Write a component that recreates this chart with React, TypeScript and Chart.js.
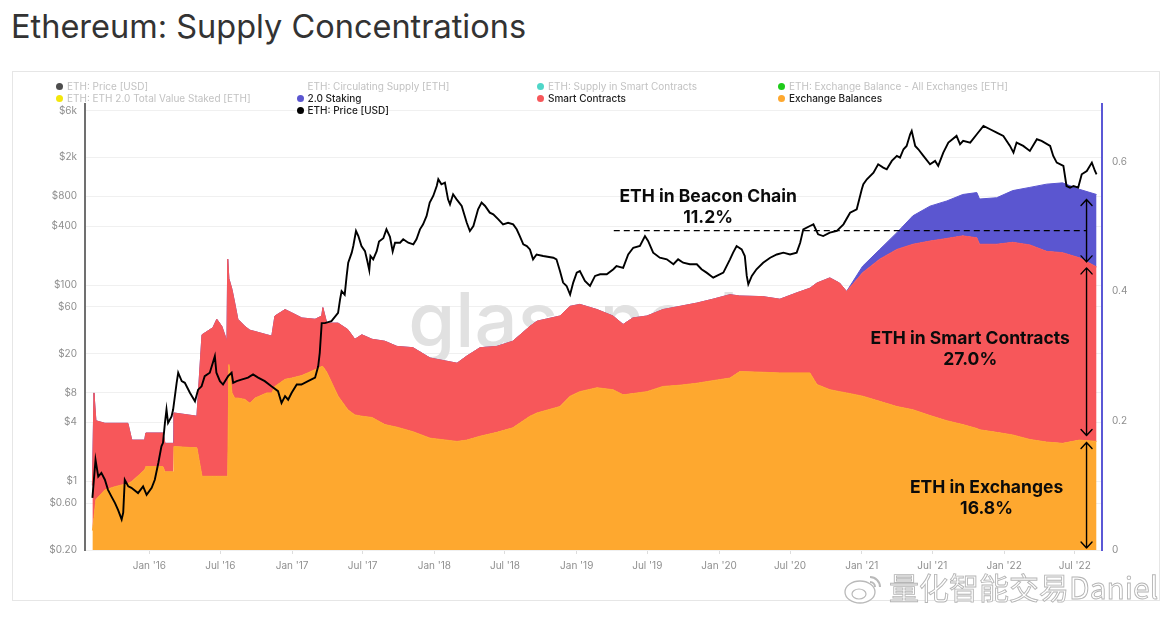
import React, { useEffect, useRef } from 'react';
import { Chart, registerables } from 'chart.js';

Chart.register(...registerables);

// ---------------- data ----------------
const supplyDates = [
  '2015-08-08', '2015-08-12', '2015-08-17', '2015-09-09', '2015-10-05', '2015-11-07', '2015-11-17', '2015-12-20',
  '2015-12-23', '2016-02-05', '2016-02-10', '2016-03-02', '2016-03-04', '2016-05-02', '2016-05-15', '2016-06-12',
  '2016-06-22', '2016-07-05', '2016-07-18', '2016-07-20', '2016-07-23', '2016-07-31', '2016-08-07', '2016-08-15',
  '2016-09-02', '2016-09-15', '2016-09-28', '2016-10-28', '2016-11-10', '2016-11-18', '2016-12-14', '2016-12-31',
  '2017-01-26', '2017-03-01', '2017-03-18', '2017-03-21', '2017-03-31', '2017-04-29', '2017-05-24', '2017-06-11',
  '2017-06-29', '2017-07-25', '2017-08-27', '2017-09-27', '2017-11-07', '2017-12-21', '2018-02-28', '2018-03-25',
  '2018-04-28', '2018-06-10', '2018-07-21', '2018-09-03', '2018-09-21', '2018-11-19', '2018-12-15', '2019-01-09',
  '2019-02-22', '2019-04-04', '2019-04-30', '2019-05-25', '2019-06-30', '2019-08-10', '2019-09-23', '2019-11-05',
  '2019-12-16', '2020-01-29', '2020-02-23', '2020-04-22', '2020-06-05', '2020-07-19', '2020-08-21', '2020-09-08',
  '2020-10-11', '2020-11-05', '2020-11-23', '2021-01-03', '2021-02-16', '2021-04-01', '2021-05-12', '2021-06-25',
  '2021-08-07', '2021-09-17', '2021-10-23', '2021-10-30', '2021-12-13', '2022-01-23', '2022-03-08', '2022-04-20',
  '2022-05-31', '2022-07-13', '2022-08-26',
];
const exchangeBalances = [
  0.03, 0.05, 0.078, 0.093, 0.098, 0.103, 0.106, 0.124,
  0.129, 0.129, 0.121, 0.121, 0.16, 0.158, 0.114, 0.114,
  0.114, 0.114, 0.114, 0.114, 0.287, 0.243, 0.235, 0.235,
  0.233, 0.227, 0.235, 0.243, 0.243, 0.253, 0.264, 0.266,
  0.27, 0.279, 0.284, 0.284, 0.275, 0.238, 0.217, 0.209,
  0.207, 0.205, 0.194, 0.19, 0.183, 0.173, 0.168, 0.17,
  0.176, 0.182, 0.189, 0.207, 0.212, 0.222, 0.238, 0.245,
  0.251, 0.248, 0.24, 0.242, 0.245, 0.253, 0.255, 0.258,
  0.262, 0.266, 0.276, 0.275, 0.274, 0.274, 0.274, 0.256,
  0.248, 0.245, 0.243, 0.238, 0.23, 0.222, 0.217, 0.208,
  0.2, 0.194, 0.188, 0.186, 0.182, 0.178, 0.171, 0.167,
  0.165, 0.17, 0.168,
];
const smartContracts = [
  0.07, 0.193, 0.122, 0.103, 0.098, 0.093, 0.064, 0.046,
  0.052, 0.052, 0.044, 0.044, 0.052, 0.049, 0.219, 0.23,
  0.243, 0.232, 0.209, 0.336, 0.133, 0.16, 0.147, 0.122,
  0.113, 0.113, 0.103, 0.09, 0.088, 0.109, 0.108, 0.101,
  0.089, 0.078, 0.078, 0.091, 0.076, 0.113, 0.124, 0.117,
  0.126, 0.121, 0.129, 0.125, 0.13, 0.124, 0.121, 0.13,
  0.137, 0.133, 0.134, 0.139, 0.142, 0.14, 0.139, 0.135,
  0.121, 0.114, 0.109, 0.117, 0.117, 0.119, 0.122, 0.124,
  0.126, 0.129, 0.117, 0.117, 0.114, 0.124, 0.131, 0.157,
  0.173, 0.168, 0.157, 0.191, 0.22, 0.243, 0.256, 0.27,
  0.282, 0.292, 0.295, 0.287, 0.291, 0.298, 0.301, 0.295,
  0.295, 0.282, 0.27,
];
const staking20 = [
  0, 0, 0, 0, 0, 0, 0, 0,
  0, 0, 0, 0, 0, 0, 0, 0,
  0, 0, 0, 0, 0, 0, 0, 0,
  0, 0, 0, 0, 0, 0, 0, 0,
  0, 0, 0, 0, 0, 0, 0, 0,
  0, 0, 0, 0, 0, 0, 0, 0,
  0, 0, 0, 0, 0, 0, 0, 0,
  0, 0, 0, 0, 0, 0, 0, 0,
  0, 0, 0, 0, 0, 0, 0, 0,
  0, 0, 0, 0.01, 0.015, 0.026, 0.044, 0.054,
  0.058, 0.064, 0.07, 0.07, 0.072, 0.08, 0.089, 0.104,
  0.108, 0.106, 0.112,
];

const priceDates = [
  '2015-08-08', '2015-08-16', '2015-08-23', '2015-08-31', '2015-09-09', '2015-09-17', '2015-09-26', '2015-10-05',
  '2015-10-13', '2015-10-22', '2015-10-26', '2015-10-30', '2015-11-08', '2015-11-16', '2015-12-03', '2015-12-16',
  '2015-12-25', '2016-01-07', '2016-01-15', '2016-01-24', '2016-02-01', '2016-02-05', '2016-02-10', '2016-02-14',
  '2016-02-18', '2016-02-27', '2016-03-02', '2016-03-11', '2016-03-15', '2016-03-24', '2016-04-01', '2016-04-14',
  '2016-04-27', '2016-05-05', '2016-05-14', '2016-05-22', '2016-06-04', '2016-06-17', '2016-06-21', '2016-06-30',
  '2016-07-08', '2016-07-21', '2016-07-30', '2016-08-03', '2016-08-12', '2016-08-24', '2016-09-10', '2016-09-23',
  '2016-10-06', '2016-10-23', '2016-11-09', '2016-11-26', '2016-12-05', '2016-12-14', '2016-12-22', '2016-12-31',
  '2017-01-13', '2017-01-25', '2017-02-11', '2017-03-01', '2017-03-09', '2017-03-13', '2017-03-18', '2017-03-26',
  '2017-04-12', '2017-04-29', '2017-05-04', '2017-05-08', '2017-05-16', '2017-05-21', '2017-05-25', '2017-06-03',
  '2017-06-07', '2017-06-14', '2017-06-20', '2017-06-28', '2017-07-07', '2017-07-13', '2017-07-18', '2017-07-21',
  '2017-07-28', '2017-08-06', '2017-08-12', '2017-08-23', '2017-08-31', '2017-09-09', '2017-09-16', '2017-09-22',
  '2017-10-05', '2017-10-13', '2017-10-26', '2017-11-08', '2017-11-16', '2017-11-25', '2017-12-03', '2017-12-12',
  '2017-12-20', '2017-12-29', '2018-01-07', '2018-01-11', '2018-01-19', '2018-01-28', '2018-02-05', '2018-02-10',
  '2018-02-18', '2018-02-27', '2018-03-12', '2018-03-25', '2018-04-02', '2018-04-11', '2018-04-23', '2018-05-02',
  '2018-05-11', '2018-05-23', '2018-06-01', '2018-06-14', '2018-06-26', '2018-07-09', '2018-07-22', '2018-07-31',
  '2018-08-08', '2018-08-17', '2018-08-26', '2018-09-03', '2018-09-11', '2018-09-20', '2018-10-07', '2018-11-02',
  '2018-11-10', '2018-11-19', '2018-11-27', '2018-12-06', '2018-12-15', '2018-12-23', '2019-01-01', '2019-01-09',
  '2019-01-22', '2019-02-04', '2019-02-17', '2019-03-02', '2019-03-19', '2019-04-05', '2019-04-13', '2019-04-30',
  '2019-05-13', '2019-05-26', '2019-06-12', '2019-06-25', '2019-07-03', '2019-07-16', '2019-08-02', '2019-08-20',
  '2019-09-06', '2019-09-18', '2019-10-01', '2019-10-18', '2019-11-05', '2019-11-17', '2019-11-30', '2019-12-17',
  '2019-12-26', '2020-01-12', '2020-01-29', '2020-02-06', '2020-02-15', '2020-02-28', '2020-03-07', '2020-03-12',
  '2020-03-16', '2020-03-25', '2020-04-06', '2020-04-23', '2020-05-11', '2020-05-28', '2020-06-14', '2020-07-01',
  '2020-07-18', '2020-07-27', '2020-08-04', '2020-08-21', '2020-08-30', '2020-09-11', '2020-09-24', '2020-10-11',
  '2020-10-29', '2020-11-15', '2020-12-02', '2020-12-19', '2021-01-01', '2021-01-05', '2021-01-14', '2021-01-31',
  '2021-02-12', '2021-02-25', '2021-03-06', '2021-03-19', '2021-04-01', '2021-04-09', '2021-04-18', '2021-04-26',
  '2021-05-05', '2021-05-09', '2021-05-18', '2021-05-26', '2021-06-08', '2021-06-25', '2021-07-08', '2021-07-16',
  '2021-07-29', '2021-08-11', '2021-09-01', '2021-09-10', '2021-09-18', '2021-10-06', '2021-10-23', '2021-11-09',
  '2021-11-26', '2021-12-13', '2021-12-30', '2022-01-16', '2022-01-25', '2022-02-02', '2022-02-19', '2022-03-08',
  '2022-03-26', '2022-04-07', '2022-04-29', '2022-05-07', '2022-05-16', '2022-06-02', '2022-06-10', '2022-06-19',
  '2022-06-28', '2022-07-10', '2022-07-19', '2022-08-01', '2022-08-14', '2022-08-22', '2022-08-26',
];
const priceUsd = [
  0.68, 1.66, 1.12, 1.22, 1.04, 0.82, 0.7, 0.6,
  0.51, 0.41, 0.48, 1.04, 0.89, 0.86, 0.76, 0.89,
  0.73, 0.86, 1.04, 1.54, 2.28, 2.47, 3.94, 5.4,
  3.94, 4.6, 5.4, 10.1, 12.8, 10.5, 10.1, 8.0,
  6.55, 8.6, 9.3, 11.8, 12.8, 18.9, 12.8, 10.5,
  9.7, 11.8, 12.8, 10.1, 10.5, 10.9, 11.4, 12.3,
  11.4, 10.5, 9.3, 8.3, 6.3, 7.4, 6.8, 8.0,
  9.7, 9.7, 10.5, 11.4, 14.9, 20.4, 41, 41,
  43, 52, 71, 87, 80, 124, 169, 214,
  250, 356, 316, 250, 222, 176, 142, 198,
  183, 222, 278, 300, 370, 310, 220, 270,
  270, 293, 270, 260, 293, 370, 416, 506,
  692, 809, 1023, 1197, 1065, 1107, 748, 665,
  841, 748, 640, 432, 356, 400, 592, 692,
  640, 547, 526, 468, 416, 432, 416, 370,
  316, 260, 250, 231, 183, 205, 198, 190,
  183, 139, 106, 98, 80, 106, 134, 139,
  110, 98, 124, 129, 129, 145, 156, 150,
  205, 240, 250, 316, 282, 214, 190, 183,
  163, 183, 169, 163, 163, 145, 134, 119,
  124, 134, 183, 214, 250, 231, 198, 124,
  102, 124, 145, 169, 190, 205, 214, 205,
  214, 270, 370, 400, 416, 329, 316, 342,
  356, 416, 547, 592, 946, 1065, 1197, 1400,
  1702, 1574, 1514, 1841, 2071, 1992, 2422, 2618,
  3443, 3724, 2618, 2422, 2071, 1702, 1841, 1637,
  2239, 2831, 3311, 2723, 2944, 2831, 3443, 4188,
  3873, 3581, 3311, 2618, 2239, 2831, 2618, 2328,
  3062, 2944, 2618, 2071, 1770, 1637, 1023, 985,
  1023, 985, 1346, 1455, 1770, 1455, 1346,
];

const priceTicks = [0.2, 0.6, 1, 4, 8, 20, 60, 100, 400, 800, 2000, 6000];
const priceTickLabels = ['$0.20', '$0.60', '$1', '$4', '$8', '$20', '$60', '$100', '$400', '$800', '$2k', '$6k'];
const ratioTicks = [0, 0.2, 0.4, 0.6];
const ratioTickLabels = ['0', '0.2', '0.4', '0.6'];
const timeTicks = [
  '2016-01-01', '2016-07-01', '2017-01-01', '2017-07-01', '2018-01-01', '2018-07-01', '2019-01-01',
  '2019-07-01', '2020-01-01', '2020-07-01', '2021-01-01', '2021-07-01', '2022-01-01', '2022-07-01',
];
const timeTickLabels = [
  "Jan '16", "Jul '16", "Jan '17", "Jul '17", "Jan '18", "Jul '18", "Jan '19",
  "Jul '19", "Jan '20", "Jul '20", "Jan '21", "Jul '21", "Jan '22", "Jul '22",
];

const legendItems = [
  { label: 'ETH: Price [USD]', color: '#4d4d4d', active: false, col: 0, row: 0 },
  { label: 'ETH: Circulating Supply [ETH]', color: 'transparent', active: false, col: 1, row: 0 },
  { label: 'ETH: Supply in Smart Contracts', color: '#4fd6c8', active: false, col: 2, row: 0 },
  { label: 'ETH: Exchange Balance - All Exchanges [ETH]', color: '#1ecb1a', active: false, col: 3, row: 0 },
  { label: 'ETH: ETH 2.0 Total Value Staked [ETH]', color: '#f3e60b', active: false, col: 0, row: 1 },
  { label: '2.0 Staking', color: '#5b56d0', active: true, col: 1, row: 1 },
  { label: 'Smart Contracts', color: '#f7575a', active: true, col: 2, row: 1 },
  { label: 'Exchange Balances', color: '#fea82f', active: true, col: 3, row: 1 },
  { label: 'ETH: Price [USD]', color: '#000000', active: true, col: 1, row: 2 },
];

// ---------------- layout / style constants ----------------
const X_MIN = '2015-07-20';
const X_MAX = '2022-09-09';
const COLORS = { exchange: '#fea82f', smart: '#f7575a', staking: '#5b56d0', price: '#000000' };
const callouts = {
  beacon: { title: 'ETH in Beacon Chain', date: '2019-12-04', value: 0.538, lineFrom: '2019-04-06' },
  smart: { title: 'ETH in Smart Contracts', date: '2021-10-06', value: 0.318 },
  exchange: { title: 'ETH in Exchanges', date: '2021-11-17', value: 0.088 },
};

const toMs = (s: string) => {
  const [y, m, d] = s.split('-').map(Number);
  return Date.UTC(y, m - 1, d);
};
const pct = (v: number) => (v * 100).toFixed(1) + '%';

function drawArrow(ctx: CanvasRenderingContext2D, x: number, y1: number, y2: number) {
  const w = 5.5, h = 6;
  ctx.beginPath();
  ctx.moveTo(x, y1);
  ctx.lineTo(x, y2);
  ctx.moveTo(x - w, y1 + h);
  ctx.lineTo(x, y1);
  ctx.lineTo(x + w, y1 + h);
  ctx.moveTo(x - w, y2 - h);
  ctx.lineTo(x, y2);
  ctx.lineTo(x + w, y2 - h);
  ctx.stroke();
}

const watermarkPlugin = {
  id: 'glassWatermark',
  beforeDatasetsDraw(chart: any) {
    const { ctx, chartArea } = chart;
    ctx.save();
    ctx.font = '500 76px Inter';
    ctx.fillStyle = '#e1e1e1';
    ctx.textAlign = 'center';
    ctx.textBaseline = 'alphabetic';
    ctx.fillText('glassnode', (chartArea.left + chartArea.right) / 2 + 2, (chartArea.top + chartArea.bottom) / 2 + 20);
    ctx.restore();
  },
};

const annotationPlugin = {
  id: 'supplyAnnotations',
  afterDatasetsDraw(chart: any) {
    const { ctx } = chart;
    const xs = chart.scales.x;
    const yr = chart.scales.ratio;
    const last = supplyDates.length - 1;
    const ex = exchangeBalances[last];
    const sc = smartContracts[last];
    const st = staking20[last];
    const xArrow = xs.getPixelForValue(toMs(supplyDates[last])) - 10;
    const b0 = yr.getPixelForValue(0);
    const b1 = yr.getPixelForValue(ex);
    const b2 = yr.getPixelForValue(ex + sc);
    const b3 = yr.getPixelForValue(ex + sc + st);

    ctx.save();
    ctx.strokeStyle = '#000';
    ctx.lineWidth = 1.4;
    ctx.lineCap = 'round';
    ctx.lineJoin = 'round';
    drawArrow(ctx, xArrow, b3 + 5, b2 - 5);
    drawArrow(ctx, xArrow, b2 + 1, b1 - 6);
    drawArrow(ctx, xArrow, b1 + 1, b0 - 2);

    // dashed guide from the beacon label to the staking arrow
    const yMid = (b2 + b3) / 2;
    ctx.setLineDash([6, 4]);
    ctx.lineWidth = 1.3;
    ctx.lineCap = 'butt';
    ctx.beginPath();
    ctx.moveTo(xs.getPixelForValue(toMs(callouts.beacon.lineFrom)), yMid);
    ctx.lineTo(xArrow, yMid);
    ctx.stroke();
    ctx.setLineDash([]);

    ctx.fillStyle = '#0b0b0b';
    ctx.textAlign = 'center';
    ctx.textBaseline = 'alphabetic';
    ctx.font = '700 17.5px Inter';
    const texts: [any, string][] = [
      [callouts.beacon, pct(st)],
      [callouts.smart, pct(sc)],
      [callouts.exchange, pct(ex)],
    ];
    texts.forEach(([c, p]) => {
      const x = xs.getPixelForValue(toMs(c.date));
      const y = yr.getPixelForValue(c.value);
      ctx.fillText(c.title, x, y);
      ctx.fillText(p, x, y + 21);
    });
    ctx.restore();
  },
};

export default function App() {
  const canvasRef = useRef<HTMLCanvasElement>(null);

  useEffect(() => {
    const canvas = canvasRef.current;
    if (!canvas) return;
    const supplyX = supplyDates.map(toMs);
    const tickFont = { family: 'Inter', size: 10 };
    const chart = new Chart(canvas, {
      type: 'line',
      data: {
        datasets: [
          {
            label: 'ETH: Price [USD]',
            data: priceDates.map((d, i) => ({ x: toMs(d), y: priceUsd[i] })),
            yAxisID: 'price',
            borderColor: COLORS.price,
            borderWidth: 1.9,
            pointRadius: 0,
            fill: false,
            tension: 0,
          },
          {
            label: 'Exchange Balances',
            data: supplyX.map((x, i) => ({ x, y: exchangeBalances[i] })),
            yAxisID: 'ratio',
            borderColor: COLORS.exchange,
            backgroundColor: COLORS.exchange,
            borderWidth: 1,
            pointRadius: 0,
            fill: 'origin',
            tension: 0,
          },
          {
            label: 'Smart Contracts',
            data: supplyX.map((x, i) => ({ x, y: smartContracts[i] })),
            yAxisID: 'ratio',
            borderColor: COLORS.smart,
            backgroundColor: COLORS.smart,
            borderWidth: 1,
            pointRadius: 0,
            fill: '-1',
            tension: 0,
          },
          {
            label: '2.0 Staking',
            data: supplyX.map((x, i) => ({ x, y: staking20[i] })),
            yAxisID: 'ratio',
            borderColor: COLORS.staking,
            backgroundColor: COLORS.staking,
            borderWidth: 1,
            pointRadius: 0,
            fill: '-1',
            tension: 0,
          },
        ],
      },
      options: {
        responsive: false,
        animation: false,
        devicePixelRatio: 1,
        layout: { padding: { left: 40, right: 30, top: 104, bottom: 38 } },
        plugins: { legend: { display: false }, tooltip: { enabled: false } },
        scales: {
          x: {
            type: 'linear',
            min: toMs(X_MIN),
            max: toMs(X_MAX),
            afterBuildTicks: (s: any) => {
              s.ticks = timeTicks.map((t) => ({ value: toMs(t) }));
            },
            afterFit: (s: any) => {
              s.height = 30;
            },
            ticks: {
              autoSkip: false,
              maxRotation: 0,
              padding: 6,
              color: '#8f8f8f',
              font: tickFont,
              callback: (_v: any, i: number) => timeTickLabels[i],
            },
            grid: { display: true, drawOnChartArea: false, drawTicks: true, tickLength: 4, color: '#dddddd' },
            border: { display: false },
          },
          price: {
            type: 'logarithmic',
            position: 'left',
            min: 0.2,
            max: 7000,
            afterBuildTicks: (s: any) => {
              s.ticks = priceTicks.map((v) => ({ value: v }));
            },
            afterFit: (s: any) => {
              s.width = 45;
            },
            ticks: {
              autoSkip: false,
              padding: 8,
              color: '#8f8f8f',
              font: tickFont,
              callback: (_v: any, i: number) => priceTickLabels[i],
            },
            grid: { color: '#f0f0f0', drawTicks: false },
            border: { display: true, color: '#707070', width: 2 },
          },
          ratio: {
            type: 'linear',
            position: 'right',
            stacked: true,
            min: 0,
            max: 0.69,
            afterBuildTicks: (s: any) => {
              s.ticks = ratioTicks.map((v) => ({ value: v }));
            },
            afterFit: (s: any) => {
              s.width = 44;
            },
            ticks: {
              autoSkip: false,
              padding: 10,
              color: '#8f8f8f',
              font: tickFont,
              callback: (_v: any, i: number) => ratioTickLabels[i],
            },
            grid: { display: false, drawTicks: false },
            border: { display: true, color: '#5b58d6', width: 2 },
          },
        },
      },
      plugins: [watermarkPlugin, annotationPlugin],
    } as any);
    return () => chart.destroy();
  }, []);

  const colX = [56, 296.5, 537, 778];
  const rowY = [80, 92, 104];

  return (
    <div
      style={{
        position: 'absolute',
        left: 0,
        top: 0,
        width: 1176,
        height: 618,
        background: '#ffffff',
        overflow: 'hidden',
        fontFamily: 'Inter, sans-serif',
      }}
    >
      <div
        style={{
          position: 'absolute',
          left: 11,
          top: 6,
          fontSize: 32.5,
          lineHeight: '42px',
          color: '#333333',
          fontWeight: 400,
          whiteSpace: 'nowrap',
        }}
      >
        Ethereum: Supply Concentrations
      </div>
      <div
        style={{
          position: 'absolute',
          left: 12,
          top: 71,
          width: 1148,
          height: 530,
          border: '1px solid #e6e6e6',
          boxSizing: 'border-box',
        }}
      />
      <canvas
        ref={canvasRef}
        width={1176}
        height={618}
        style={{ position: 'absolute', left: 0, top: 0, width: 1176, height: 618 }}
      />
      {legendItems.map((it, i) => (
        <div
          key={i}
          style={{
            position: 'absolute',
            left: colX[it.col],
            top: rowY[it.row],
            height: 12,
            display: 'flex',
            alignItems: 'center',
            fontSize: 10,
            lineHeight: '12px',
            whiteSpace: 'nowrap',
            color: it.active ? '#1e1e1e' : '#c2c2c2',
            fontWeight: it.active ? 500 : 400,
          }}
        >
          <span
            style={{
              display: 'inline-block',
              width: 7,
              height: 7,
              borderRadius: '50%',
              background: it.color,
              marginRight: 4,
            }}
          />
          {it.label}
        </div>
      ))}
      <svg
        width={44}
        height={36}
        style={{ position: 'absolute', left: 842, top: 571 }}
        viewBox="0 0 44 36"
      >
        <ellipse cx={18} cy={21} rx={15} ry={11} fill="#ffffff" stroke="#b9b9b9" strokeWidth={1.3} />
        <ellipse cx={17} cy={23} rx={7} ry={5} fill="#ffffff" stroke="#b9b9b9" strokeWidth={1.2} />
        <path d="M28 6 A10 10 0 0 1 38 16" fill="none" stroke="#b9b9b9" strokeWidth={2} />
        <path d="M28 11 A5 5 0 0 1 33 16" fill="none" stroke="#b9b9b9" strokeWidth={2} />
      </svg>
      <div
        style={{
          position: 'absolute',
          left: 889,
          top: 568,
          fontSize: 30,
          lineHeight: '36px',
          fontFamily: '"Noto Sans CJK SC", "Noto Sans", sans-serif',
          color: '#ffffff',
          WebkitTextStroke: '0.9px #b5b5b5',
          whiteSpace: 'nowrap',
        }}
      >
        量化智能交易Daniel
      </div>
    </div>
  );
}
